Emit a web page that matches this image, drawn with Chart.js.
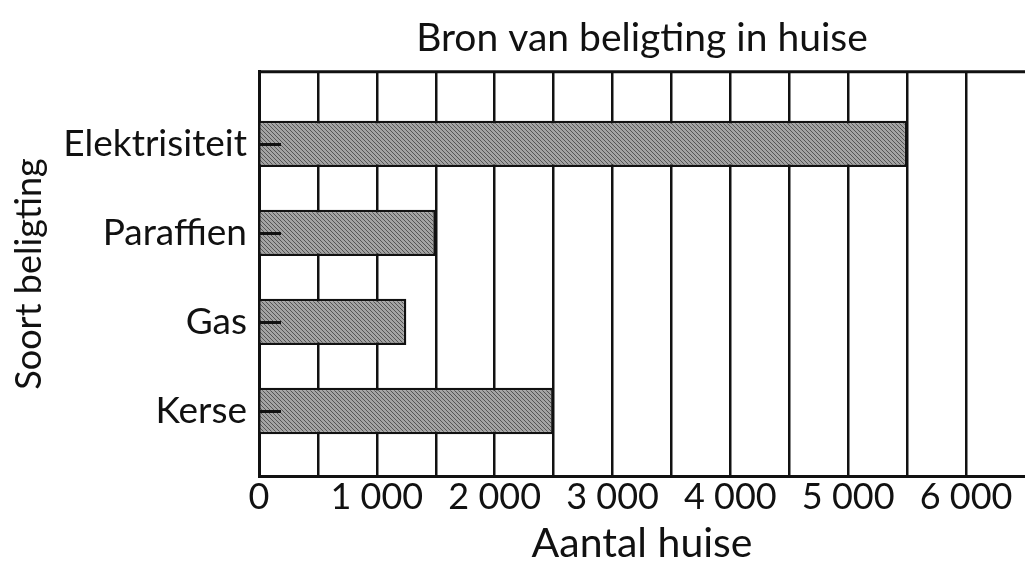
<!DOCTYPE html>
<html>
<head>
<meta charset="utf-8">
<script src="https://cdn.jsdelivr.net/npm/chart.js@4/dist/chart.umd.min.js"></script>
<style>
  html, body { margin: 0; padding: 0; background: #ffffff; }
  #wrap { width: 1025px; height: 564px; }
</style>
</head>
<body>
<div id="wrap"><canvas id="c" width="1025" height="564"></canvas></div>
<script>
// ---- data ----
const categories = ['Elektrisiteit', 'Paraffien', 'Gas', 'Kerse'];
const houses = [5500, 1500, 1250, 2500];
const xTickValues = [0, 1000, 2000, 3000, 4000, 5000, 6000];
const chartTitle = 'Bron van beligting in huise';
const xTitle = 'Aantal huise';
const yTitle = 'Soort beligting';

// hatched grey fill
function makeHatch() {
  const p = document.createElement('canvas');
  p.width = 4; p.height = 4;
  const g = p.getContext('2d');
  g.fillStyle = '#a3a3a3';
  g.fillRect(0, 0, 4, 4);
  g.fillStyle = '#555555';
  for (let i = 0; i < 4; i++) g.fillRect(i, i, 1, 1);
  return g.createPattern(p, 'repeat');
}
const ctx = document.getElementById('c').getContext('2d');
const hatch = makeHatch();

const innerTicks = {
  id: 'innerTicks',
  afterDatasetsDraw(chart) {
    const {ctx, chartArea} = chart;
    const ys = chart.scales.y;
    ctx.save();
    ctx.strokeStyle = '#111';
    ctx.lineWidth = 3;
    categories.forEach((c, i) => {
      const y = Math.round(ys.getPixelForValue(i)) + 0.5;
      ctx.beginPath();
      ctx.moveTo(chartArea.left, y);
      ctx.lineTo(chartArea.left + 22, y);
      ctx.stroke();
    });
    // top frame line
    ctx.beginPath();
    ctx.moveTo(chartArea.left, chartArea.top);
    ctx.lineTo(chartArea.right, chartArea.top);
    ctx.stroke();
    ctx.restore();
  }
};

const FONT = 'Lato, "Open Sans", "Liberation Sans", sans-serif';

new Chart(ctx, {
  type: 'bar',
  data: {
    datasets: [{
      data: houses.map((v, i) => ({ x: v, y: i })),
      backgroundColor: hatch,
      borderColor: '#111',
      borderWidth: 2.5,
      borderSkipped: 'start',
      barPercentage: 0.52,
      categoryPercentage: 1.0
    }]
  },
  options: {
    indexAxis: 'y',
    responsive: false,
    devicePixelRatio: 1,
    animation: false,
    layout: { padding: 0 },
    plugins: {
      legend: { display: false },
      tooltip: { enabled: false },
      title: {
        display: true,
        text: chartTitle,
        fullSize: false,
        color: '#111',
        font: { family: FONT, size: 39, weight: 'normal', lineHeight: 1.2 },
        padding: { top: 15, bottom: 10 }
      }
    },
    scales: {
      x: {
        type: 'linear',
        position: 'bottom',
        min: 0,
        max: 6500,
        afterFit(s) { s.height = 88; },
        afterBuildTicks(s) {
          const t = [];
          for (let v = 0; v <= 6500; v += 500) t.push({ value: v });
          s.ticks = t;
        },
        ticks: {
          autoSkip: false,
          maxRotation: 0,
          padding: 0,
          color: '#111',
          font: { family: FONT, size: 36 },
          callback(v) {
            if (!xTickValues.includes(v)) return '';
            return v === 0 ? '0' : (v / 1000) + ' 000';
          }
        },
        grid: {
          drawTicks: false,
          lineWidth: 2.5,
          color(c) { return c.tick && c.tick.value >= 6500 ? 'rgba(0,0,0,0)' : '#111'; }
        },
        border: { display: true, color: '#111', width: 3 },
        title: {
          display: true,
          text: xTitle,
          color: '#111',
          font: { family: FONT, size: 41, lineHeight: 1.0 },
          padding: { top: 0, bottom: 0 }
        }
      },
      y: {
        type: 'linear',
        position: 'left',
        reverse: true,
        offset: false,
        min: -0.81,
        max: 3.73,
        afterFit(s) { s.width = 259; },
        afterBuildTicks(s) {
          s.ticks = categories.map((c, i) => ({ value: i }));
        },
        ticks: {
          padding: 12,
          color: '#111',
          font: { family: FONT, size: 37 },
          callback(v) { return categories[v] !== undefined ? categories[v] : ''; }
        },
        grid: { display: false, drawTicks: false, offset: false },
        border: { display: true, color: '#111', width: 3 },
        title: {
          display: true,
          text: yTitle,
          color: '#111',
          font: { family: FONT, size: 36, lineHeight: 1.2 },
          padding: { top: 8, bottom: 0 }
        }
      }
    }
  },
  plugins: [innerTicks]
});
</script>
</body>
</html>
